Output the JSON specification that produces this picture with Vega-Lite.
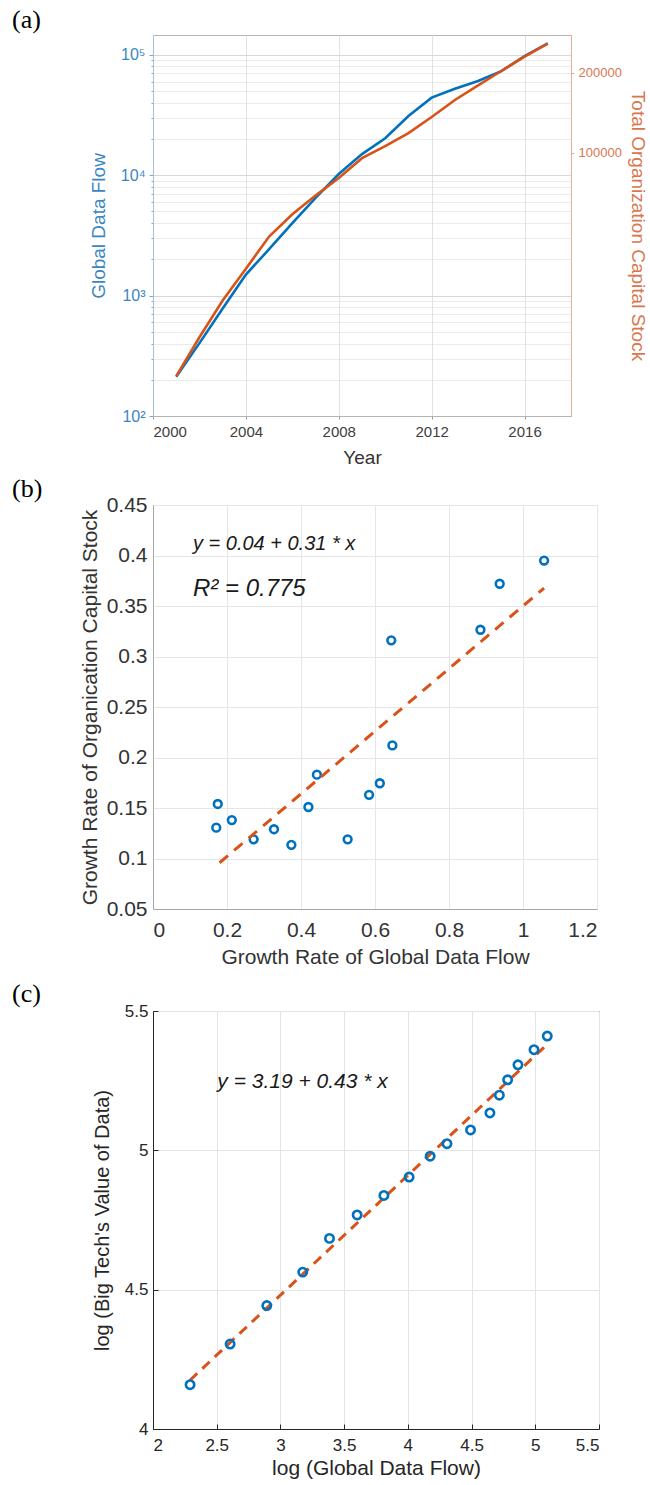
{
  "$schema": "https://vega.github.io/schema/vega-lite/v6.json",
  "background": "white",
  "padding": {"left": 11, "top": 6, "right": 5, "bottom": 5},
  "bounds": "flush",
  "spacing": 89,
  "config": {
    "font": "Liberation Sans",
    "view": {"stroke": null},
    "axis": {"labelFont": "Liberation Sans", "titleFont": "Liberation Sans", "titleFontWeight": "normal", "labelColor": "#404040", "titleColor": "#262626", "tickColor": "#404040"},
    "title": {"font": "Liberation Serif", "fontSize": 26, "fontWeight": "normal", "anchor": "start", "frame": "group", "color": "#000000", "baseline": "bottom"}
  },
  "datasets": {
    "flow": [
      {"year": 2001, "data_flow": 212, "org_capital": 14420},
      {"year": 2002, "data_flow": 403, "org_capital": 20180},
      {"year": 2003, "data_flow": 782, "org_capital": 27730},
      {"year": 2004, "data_flow": 1496, "org_capital": 36560},
      {"year": 2005, "data_flow": 2427, "org_capital": 48310},
      {"year": 2006, "data_flow": 4000, "org_capital": 58610},
      {"year": 2007, "data_flow": 6490, "org_capital": 68870},
      {"year": 2008, "data_flow": 10230, "org_capital": 80170},
      {"year": 2009, "data_flow": 14960, "org_capital": 95280},
      {"year": 2010, "data_flow": 20280, "org_capital": 105680},
      {"year": 2011, "data_flow": 31050, "org_capital": 118300},
      {"year": 2012, "data_flow": 44060, "org_capital": 136140},
      {"year": 2013, "data_flow": 52240, "org_capital": 157760},
      {"year": 2014, "data_flow": 60670, "org_capital": 179060},
      {"year": 2015, "data_flow": 73110, "org_capital": 202770},
      {"year": 2016, "data_flow": 97720, "org_capital": 229620},
      {"year": 2017, "data_flow": 124170, "org_capital": 257040}
    ],
    "growth": [
      {"flow_growth": 1.057, "capital_growth": 0.395},
      {"flow_growth": 0.937, "capital_growth": 0.372},
      {"flow_growth": 0.885, "capital_growth": 0.3265},
      {"flow_growth": 0.644, "capital_growth": 0.316},
      {"flow_growth": 0.647, "capital_growth": 0.212},
      {"flow_growth": 0.443, "capital_growth": 0.183},
      {"flow_growth": 0.613, "capital_growth": 0.1745},
      {"flow_growth": 0.584, "capital_growth": 0.163},
      {"flow_growth": 0.175, "capital_growth": 0.154},
      {"flow_growth": 0.42, "capital_growth": 0.151},
      {"flow_growth": 0.213, "capital_growth": 0.138},
      {"flow_growth": 0.171, "capital_growth": 0.1305},
      {"flow_growth": 0.327, "capital_growth": 0.129},
      {"flow_growth": 0.272, "capital_growth": 0.119},
      {"flow_growth": 0.526, "capital_growth": 0.119},
      {"flow_growth": 0.374, "capital_growth": 0.1135}
    ],
    "fitB": [
      {"flow_growth": 0.18, "capital_growth": 0.0958},
      {"flow_growth": 1.057, "capital_growth": 0.3677}
    ],
    "noteB1": [{"flow_growth": 0.108, "capital_growth": 0.411, "label": "y = 0.04 + 0.31 * x"}],
    "noteB2": [{"flow_growth": 0.108, "capital_growth": 0.367, "label": "R² = 0.775"}],
    "logs": [
      {"log_flow": 2.291, "log_value": 4.159},
      {"log_flow": 2.605, "log_value": 4.305},
      {"log_flow": 2.893, "log_value": 4.443},
      {"log_flow": 3.175, "log_value": 4.563},
      {"log_flow": 3.385, "log_value": 4.684},
      {"log_flow": 3.602, "log_value": 4.768},
      {"log_flow": 3.812, "log_value": 4.838},
      {"log_flow": 4.01, "log_value": 4.904},
      {"log_flow": 4.175, "log_value": 4.979},
      {"log_flow": 4.307, "log_value": 5.024},
      {"log_flow": 4.492, "log_value": 5.073},
      {"log_flow": 4.644, "log_value": 5.134},
      {"log_flow": 4.718, "log_value": 5.198},
      {"log_flow": 4.783, "log_value": 5.253},
      {"log_flow": 4.864, "log_value": 5.307},
      {"log_flow": 4.99, "log_value": 5.361},
      {"log_flow": 5.094, "log_value": 5.41}
    ],
    "fitC": [
      {"log_flow": 2.29, "log_value": 4.175},
      {"log_flow": 5.09, "log_value": 5.379}
    ],
    "noteC": [{"log_flow": 2.505, "log_value": 5.246, "label": "y = 3.19 + 0.43 * x"}]
  },
  "vconcat": [
    {
      "title": {"text": "(a)", "dx": -141, "offset": 2},
      "width": 418,
      "height": 381,
      "view": {"stroke": "#b4b4b4"},
      "data": {"name": "flow"},
      "encoding": {
        "x": {
          "field": "year", "type": "quantitative",
          "scale": {"domain": [2000, 2018], "nice": false},
          "axis": {"values": [2000, 2004, 2008, 2012, 2016], "format": "d", "labelFontSize": 15, "labelColor": "#404040", "title": "Year", "titleFontSize": 19, "titleColor": "#333333", "grid": true, "gridColor": "#e2e2e2", "domainColor": "#b4b4b4", "tickColor": "#999999", "tickSize": 3, "labelPadding": 5, "titlePadding": 9}
        }
      },
      "layer": [
        {
          "mark": {"type": "line", "color": "#0072BD", "strokeWidth": 2.6},
          "encoding": {
            "y": {
              "field": "data_flow", "type": "quantitative",
              "scale": {"type": "log", "domain": [100, 146000], "nice": false},
              "axis": {
                "orient": "left",
                "values": [100, 200, 300, 400, 500, 600, 700, 800, 900, 1000, 2000, 3000, 4000, 5000, 6000, 7000, 8000, 9000, 10000, 20000, 30000, 40000, 50000, 60000, 70000, 80000, 90000, 100000],
                "labelExpr": "datum.value == 100 ? '10²' : datum.value == 1000 ? '10³' : datum.value == 10000 ? '10⁴' : datum.value == 100000 ? '10⁵' : ''",
                "labelOverlap": false,
                "labelColor": "#3a86c4", "labelFontSize": 16, "labelPadding": 4,
                "title": "Global Data Flow", "titleColor": "#3a86c4", "titleFontSize": 19, "titlePadding": 12,
                "grid": true, "gridColor": "#d8d8d8",
                "gridOpacity": {"condition": {"test": "indexof([100,1000,10000,100000], datum.value) >= 0", "value": 1}, "value": 0.5},
                "tickSize": {"condition": {"test": "indexof([100,1000,10000,100000], datum.value) >= 0", "value": 4}, "value": 2},
                "domainColor": "#a8c0d8", "tickColor": "#7fa6cc"
              }
            }
          }
        },
        {
          "mark": {"type": "line", "color": "#D95319", "strokeWidth": 2.6},
          "encoding": {
            "y": {
              "field": "org_capital", "type": "quantitative",
              "scale": {"type": "log", "domain": [10200, 277000], "nice": false},
              "axis": {
                "orient": "right",
                "values": [100000, 200000], "format": "d",
                "labelColor": "#d9764f", "labelFontSize": 13, "labelPadding": 4,
                "title": "Total Organization Capital Stock", "titleColor": "#d9764f", "titleFontSize": 19, "titlePadding": 6,
                "grid": false, "domainColor": "#e6ad98", "tickColor": "#e6ad98", "tickSize": 3
              }
            }
          }
        }
      ],
      "resolve": {"scale": {"y": "independent"}, "axis": {"y": "independent"}}
    },
    {
      "bounds": "flush",
      "spacing": 102,
      "vconcat": [
        {
          "title": {"text": "(b)", "dx": -141, "offset": -8},
          "width": 444,
          "height": 404,
          "view": {"stroke": "#a6a6a6"},
          "layer": [
            {
              "data": {"name": "growth"},
              "mark": {"type": "point", "shape": "circle", "filled": false, "color": "#0072BD", "strokeWidth": 2.6, "size": 60, "opacity": 1},
              "encoding": {
                "x": {
                  "field": "flow_growth", "type": "quantitative",
                  "scale": {"domain": [0, 1.2], "nice": false, "zero": false},
                  "axis": {"values": [0, 0.2, 0.4, 0.6, 0.8, 1, 1.2], "format": "~g", "labelFontSize": 21, "labelColor": "#333333", "title": "Growth Rate of Global Data Flow", "titleFontSize": 21, "titleColor": "#333333", "grid": true, "gridColor": "#e6e6e6", "domainColor": "#a6a6a6", "ticks": false, "labelPadding": 10, "titlePadding": 6}
                },
                "y": {
                  "field": "capital_growth", "type": "quantitative",
                  "scale": {"domain": [0.05, 0.45], "nice": false, "zero": false},
                  "axis": {"values": [0.05, 0.1, 0.15, 0.2, 0.25, 0.3, 0.35, 0.4, 0.45], "format": "~g", "labelFontSize": 21, "labelColor": "#333333", "title": "Growth Rate of Organication Capital Stock", "titleFontSize": 21, "titleColor": "#333333", "grid": true, "gridColor": "#e6e6e6", "domainColor": "#a6a6a6", "ticks": false, "labelPadding": 6, "titlePadding": 6}
                }
              }
            },
            {
              "data": {"name": "fitB"},
              "mark": {"type": "line", "color": "#D95319", "strokeWidth": 3, "strokeDash": [11, 8]},
              "encoding": {
                "x": {"field": "flow_growth", "type": "quantitative"},
                "y": {"field": "capital_growth", "type": "quantitative"}
              }
            },
            {
              "data": {"name": "noteB1"},
              "mark": {"type": "text", "align": "left", "baseline": "middle", "fontStyle": "italic", "fontSize": 20, "color": "#1a1a1a"},
              "encoding": {
                "x": {"field": "flow_growth", "type": "quantitative"},
                "y": {"field": "capital_growth", "type": "quantitative"},
                "text": {"field": "label"}
              }
            },
            {
              "data": {"name": "noteB2"},
              "mark": {"type": "text", "align": "left", "baseline": "middle", "fontStyle": "italic", "fontSize": 24, "color": "#1a1a1a"},
              "encoding": {
                "x": {"field": "flow_growth", "type": "quantitative"},
                "y": {"field": "capital_growth", "type": "quantitative"},
                "text": {"field": "label"}
              }
            }
          ]
        },
        {
          "title": {"text": "(c)", "dx": -141, "offset": -5},
          "width": 446,
          "height": 418,
          "view": {"stroke": "#262626"},
          "layer": [
            {
              "data": {"name": "fitC"},
              "mark": {"type": "line", "color": "#D95319", "strokeWidth": 3, "strokeDash": [10, 7]},
              "encoding": {
                "x": {
                  "field": "log_flow", "type": "quantitative",
                  "scale": {"domain": [2, 5.5], "nice": false, "zero": false},
                  "axis": {"values": [2, 2.5, 3, 3.5, 4, 4.5, 5, 5.5], "format": "~g", "labelFontSize": 17, "labelColor": "#262626", "title": "log (Global Data Flow)", "titleFontSize": 21, "titleColor": "#262626", "grid": true, "gridColor": "#e4e4e4", "domainColor": "#262626", "tickColor": "#262626", "tickSize": -5, "labelPadding": 13, "titlePadding": 4}
                },
                "y": {
                  "field": "log_value", "type": "quantitative",
                  "scale": {"domain": [4, 5.5], "nice": false, "zero": false},
                  "axis": {"values": [4, 4.5, 5, 5.5], "format": "~g", "labelFontSize": 17, "labelColor": "#262626", "title": "log (Big Tech's Value of Data)", "titleFontSize": 20, "titleColor": "#262626", "grid": true, "gridColor": "#e4e4e4", "domainColor": "#262626", "tickColor": "#262626", "tickSize": -5, "labelPadding": 10, "titlePadding": 12}
                }
              }
            },
            {
              "data": {"name": "logs"},
              "mark": {"type": "point", "shape": "circle", "filled": false, "color": "#0072BD", "strokeWidth": 2.6, "size": 70, "opacity": 1},
              "encoding": {
                "x": {"field": "log_flow", "type": "quantitative"},
                "y": {"field": "log_value", "type": "quantitative"}
              }
            },
            {
              "data": {"name": "noteC"},
              "mark": {"type": "text", "align": "left", "baseline": "middle", "fontStyle": "italic", "fontSize": 21, "color": "#1a1a1a"},
              "encoding": {
                "x": {"field": "log_flow", "type": "quantitative"},
                "y": {"field": "log_value", "type": "quantitative"},
                "text": {"field": "label"}
              }
            }
          ]
        }
      ]
    }
  ]
}
